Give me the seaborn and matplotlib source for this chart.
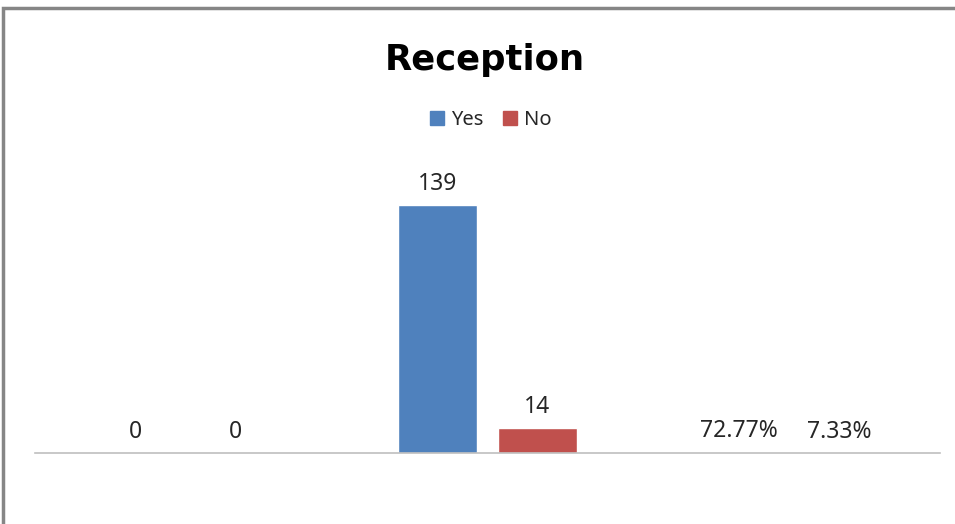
import pandas as pd
import matplotlib
matplotlib.use("Agg")
import matplotlib.pyplot as plt
import seaborn as sns
from matplotlib.patches import Rectangle

# data
groups = ["Group 1", "Group 2", "Group 3"]
yes_values = [0, 139, 0.7277]
no_values = [0, 14, 0.0733]
yes_labels = ["0", "139", "72.77%"]
no_labels = ["0", "14", "7.33%"]

df = pd.DataFrame({
    "group": groups * 2,
    "answer": ["Yes"] * 3 + ["No"] * 3,
    "value": yes_values + no_values,
    "label": yes_labels + no_labels,
})

sns.set_style("white")
plt.rcParams["font.family"] = ["Noto Sans", "DejaVu Sans"]

fig = plt.figure(figsize=(9.55, 5.24), dpi=100)
ax = fig.add_axes([0.0366, 0.1355, 0.9474, 0.5445])

sns.barplot(
    data=df, x="group", y="value", hue="answer",
    palette={"Yes": "#4F81BD", "No": "#C0504D"}, saturation=1,
    width=0.663, gap=0.21, ax=ax, legend=False,
)

ax.set_ylim(0, 160)
ax.set_xlim(-0.5, 2.5)
ax.set_xlabel("")
ax.set_ylabel("")
ax.set_xticks([])
ax.set_yticks([])
for side in ["top", "right", "left"]:
    ax.spines[side].set_visible(False)
ax.spines["bottom"].set_color("#BFBFBF")
ax.spines["bottom"].set_linewidth(1.2)

# value labels
for container, labels in zip(ax.containers, [yes_labels, no_labels]):
    ax.bar_label(container, labels=labels, padding=6.5,
                 fontsize=16.5, color="#262626")

# legend
handles = [Rectangle((0, 0), 1, 1, color="#4F81BD"),
           Rectangle((0, 0), 1, 1, color="#C0504D")]
fig.legend(handles, ["Yes", "No"], loc="center", bbox_to_anchor=(0.514, 0.771),
           ncol=2, frameon=False, fontsize=14.5, handlelength=0.7,
           handleheight=0.7, handletextpad=0.35, columnspacing=0.95,
           labelcolor="#262626")

fig.text(0.508, 1 - 70 / 524, "Reception", ha="center", va="baseline",
         fontsize=25.5, fontweight="bold", color="black",
         family="DejaVu Sans")

# outer chart frame (only top and left visible in the crop)
fig.patches.append(Rectangle((3 / 955, -0.1), 1.2, (524 - 8) / 524 + 0.1,
                             transform=fig.transFigure, fill=False,
                             edgecolor="#868686", linewidth=2.5))

fig.savefig("out.png", dpi=100, facecolor="white")
